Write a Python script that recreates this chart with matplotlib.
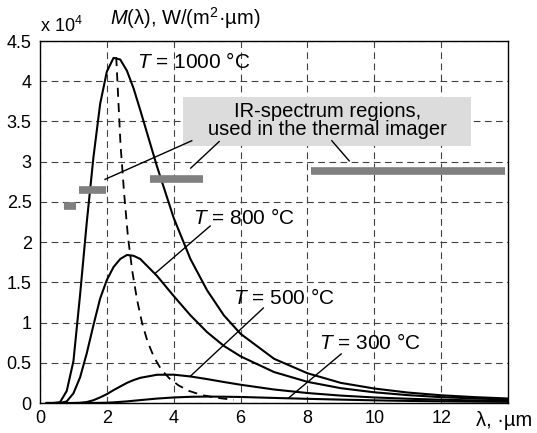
import numpy as np
import matplotlib
matplotlib.use('Agg')
from matplotlib import pyplot as plt

plt.rcParams['font.family'] = ['Liberation Sans', 'DejaVu Sans']
plt.rcParams['mathtext.fontset'] = 'custom'
plt.rcParams['mathtext.it'] = 'Liberation Sans:italic'
plt.rcParams['mathtext.rm'] = 'Liberation Sans'

# wavelength grid, um
lam = [0.2, 0.4, 0.6, 0.8, 1.0, 1.2, 1.4, 1.6, 1.8, 2.0, 2.2, 2.4, 2.6, 2.8,
       3.0, 3.5, 4.0, 4.5, 5.0, 5.5, 6.0, 7.0, 8.0, 9.0, 10, 11, 12, 13, 14]

# spectral exitance, x 1e4 W/(m2*um)
m1000 = [0, 0, 0.01, 0.15, 0.52, 1.35, 2.25, 3.06, 3.72, 4.12, 4.29, 4.27, 4.13, 3.91,
         3.64, 2.94, 2.30, 1.79, 1.40, 1.09, 0.86, 0.55, 0.37, 0.25, 0.18, 0.13, 0.096, 0.073, 0.056]
m800 = [0, 0, 0, 0.02, 0.12, 0.32, 0.62, 0.97, 1.30, 1.53, 1.69, 1.79, 1.84, 1.83,
        1.79, 1.58, 1.33, 1.09, 0.88, 0.71, 0.58, 0.385, 0.263, 0.184, 0.133, 0.098, 0.073, 0.056, 0.043]
m500 = [0, 0, 0, 0, 0, 0.003, 0.012, 0.035, 0.07, 0.11, 0.16, 0.205, 0.25, 0.285,
        0.313, 0.351, 0.352, 0.33, 0.297, 0.261, 0.227, 0.168, 0.124, 0.092, 0.069, 0.053, 0.041, 0.032, 0.025]
m300 = [0, 0, 0, 0, 0, 0, 0, 0.001, 0.002, 0.004, 0.008, 0.014, 0.02, 0.028,
        0.036, 0.055, 0.069, 0.077, 0.080, 0.078, 0.075, 0.063, 0.052, 0.042, 0.033, 0.026, 0.021, 0.017, 0.014]

# locus of maxima (dashed)
lam_peak = [2.28, 2.41, 2.52, 2.63, 2.76, 2.90, 3.05, 3.22, 3.41, 3.62, 3.86, 4.14, 4.46, 4.83, 5.27, 5.80]
m_peak = [4.30, 3.20, 2.59, 2.07, 1.64, 1.29, 1.00, 0.76, 0.57, 0.42, 0.31, 0.22, 0.15, 0.10, 0.065, 0.04]

# IR-spectrum regions used in the thermal imager
band_start = [0.73, 1.18, 3.30, 8.10]
band_end = [1.07, 1.97, 4.87, 13.9]
band_level = [2.455, 2.65, 2.785, 2.88]

xticks = [0, 2, 4, 6, 8, 10, 12]
yticks = [0, 0.5, 1, 1.5, 2, 2.5, 3, 3.5, 4, 4.5]

fig = plt.figure(figsize=(5.37, 4.33), dpi=100)
ax = fig.add_axes([40/537, 30/433, 468/537, 362/433])

for m in (m1000, m800, m500, m300):
    ax.plot(lam, m, color='black', lw=1.5, zorder=3)
ax.plot(lam_peak, m_peak, color='black', lw=1.3, dashes=(5, 3.5), zorder=3)

for a, b, y in zip(band_start, band_end, band_level):
    ax.plot([a, b], [y, y], color='#808080', lw=5.5, solid_capstyle='butt', zorder=4)

ax.set_xlim(0, 14)
ax.set_ylim(0, 4.5)
ax.set_xticks(xticks)
ax.set_yticks(yticks)
ax.set_xticklabels([str(t) for t in xticks])
ax.set_yticklabels(['0', '0.5', '1', '1.5', '2', '2.5', '3', '3.5', '4', '4.5'])
ax.tick_params(length=0, labelsize=13, pad=5)
ax.tick_params(axis='y', pad=6)
ax.grid(True, color='0.25', lw=0.8, dashes=(6, 4))
for s in ax.spines.values():
    s.set_linewidth(1.0)

# annotation box
ax.add_patch(plt.Rectangle((4.28, 3.20), 12.9 - 4.28, 0.61, facecolor='#dcdcdc',
                           edgecolor='none', zorder=5))
ax.text(8.6, 3.51, 'IR-spectrum regions,\nused in the thermal imager', ha='center',
        va='center', fontsize=14.5, linespacing=0.95, zorder=6)
for (x0, y0), (x1, y1) in [((4.54, 3.26), (1.945, 2.78)),
                           ((5.36, 3.25), (4.51, 2.92)),
                           ((8.73, 3.26), (9.25, 3.01))]:
    ax.plot([x0, x1], [y0, y1], color='black', lw=1.0, zorder=6)

# temperature labels
ax.text(2.90, 4.24, '$T$ = 1000 °C', fontsize=15, va='center', zorder=6)
ax.text(4.58, 2.30, '$T$ = 800 °C', fontsize=15, va='center', zorder=6)
ax.text(5.78, 1.30, '$T$ = 500 °C', fontsize=15, va='center', zorder=6)
ax.text(8.35, 0.745, '$T$ = 300 °C', fontsize=15, va='center', zorder=6)
for (x0, y0), (x1, y1) in [((5.09, 2.20), (3.44, 1.61)),
                           ((6.68, 1.18), (4.49, 0.33)),
                           ((9.01, 0.61), (7.43, 0.06))]:
    ax.plot([x0, x1], [y0, y1], color='black', lw=1.0, zorder=6)

fig.text(40/537, 1 - 32/433, 'x 10$^4$', fontsize=13, ha='left', va='baseline')
fig.text(110/537, 1 - 18/433, '$M$(λ), W/(m$^2$·µm)', fontsize=14.5, ha='left', va='center')
fig.text(476/537, 1 - 420/433, 'λ, ·µm', fontsize=14.5, ha='left', va='center')

fig.savefig('out.png', dpi=100)
